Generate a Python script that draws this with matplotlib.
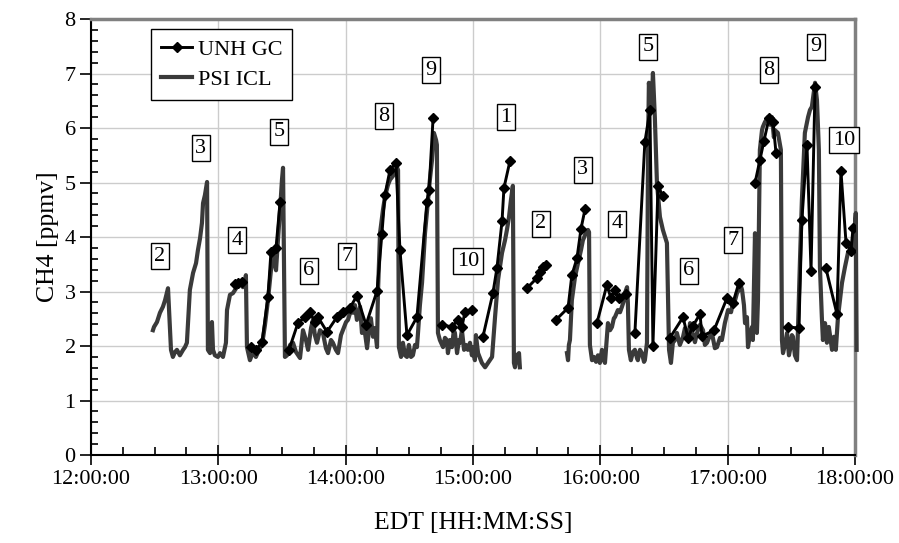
import numpy as np
import matplotlib
matplotlib.use("Agg")
import matplotlib.pyplot as plt
from matplotlib.ticker import MultipleLocator, FuncFormatter

plt.rcParams["font.family"] = ["Liberation Serif", "DejaVu Serif"]

# Time axis: minutes after 12:00:00 EDT; CH4 in ppmv. None marks a gap in the record.
psi_minutes = [
    29.2, 29.7, 31.1, 32.5, 33.9, 34.9, 36.3, 37.7, 38.6, 39.6, 40.5, 41.9, 43.4, 44.3, 45.2,
    46.6, 48.1, 49.5, 50.4, 51.4, 52.3, 52.8, 53.7, 54.7, 55.1, 56.1, 57.0, 57.5, 58.4, 59.8,
    60.8, 62.2, 63.6, 64.1, 65.5, 66.9, 67.9, 68.8, 70.2, 71.6, 72.6, 73.0, 73.5, 74.9, 76.3,
    77.7, 79.2, 80.6, 82.0, 83.4, 84.8, 86.2, 87.2, 88.1, 89.1, 90.0, 90.5, 91.4, 92.4, 93.8,
    95.2, 96.6, 98.5, 99.9, 101.3, 102.3, 103.7, 104.6, 105.5, 106.5, 107.9, 109.3, 110.7,
    111.7, 113.1, 114.0, 115.4, 116.4, 117.8, 118.7, 120.2, 121.1, 122.5, 123.5, 124.4, 125.3,
    126.8, 127.7, 128.6, 130.1, 131.0, 131.9, 132.9, 133.8, 134.8, 135.2, 136.2, 137.6, 138.5,
    139.9, 140.9, 142.3, 143.2, 144.2, 144.7, 145.1, 146.1, 147.0, 148.0, 148.9, 149.8, 150.8,
    151.7, 152.7, 153.6, 154.1, 155.0, 156.0, 157.4, 158.8, 159.7, 160.7, 161.6, 162.6, 163.0,
    163.5, 164.4, 165.4, 165.9, 166.8, 167.7, 168.2, 169.2, 170.1, 171.0, 171.5, 172.5, 173.4,
    173.9, 174.8, 175.8, 176.7, 177.6, 178.6, 179.5, 180.0, 180.9, 181.4, 182.4, 183.3, 184.2,
    185.7, 187.1, 188.0, 189.0, 190.4, 191.8, 193.7, 195.1, 196.0, 197.0, 197.9, 198.8, 199.3,
    199.8, 200.7, 201.7, 202.1,
    None,
    224.3, 224.8, 225.2, 225.7, 226.6, 228.1, 229.5, 230.9, 231.8, 233.2, 234.2, 234.7, 235.1,
    236.1, 237.0, 238.0, 238.9, 239.8, 240.8, 241.7, 242.2, 243.1, 243.6, 244.6, 245.5, 246.4,
    246.9, 247.9, 248.3, 249.3, 250.2, 251.2, 251.6, 252.6, 253.0, 253.5, 254.4, 255.4, 256.3,
    257.3, 257.7, 258.7, 259.6, 260.6, 261.0, 262.0, 262.5, 262.9, 263.9, 264.3, 264.8, 265.7,
    266.7, 268.1, 269.5, 270.5, 271.4, 272.4, 273.3, 274.2, 275.2, 276.1, 277.5, 279.0, 279.9,
    281.3, 282.3, 283.7, 284.6, 285.6, 287.0, 288.4, 289.3, 290.3, 291.7, 292.6, 294.0, 295.0,
    296.4, 297.3, 298.7, 300.2, 301.6, 302.5, 303.5, 304.4, 305.3, 305.8, 306.8, 307.7, 308.2,
    309.1, 309.6, 310.5, 311.5, 311.9, 312.9, 313.8, 314.3, 315.2, 316.2, 316.6, 317.6, 319.0,
    319.9, 320.9, 321.8, 322.3, 323.7, 325.1, 325.6, 326.1, 327.0, 328.0, 328.9, 329.4, 330.3,
    330.8, 331.7, 332.7, 333.1, 334.1, 335.0, 336.4, 337.9, 338.8, 339.7, 341.2, 342.1, 343.0,
    343.5, 344.4, 344.9, 345.9, 346.8, 347.7, 349.2, 350.1, 351.0, 352.0, 353.9, 355.3, 356.7,
    358.6, 359.5, 360.4, 360.8,
]
psi_ppmv = [
    2.29, 2.35, 2.44, 2.61, 2.72, 2.84, 3.06, 1.93, 1.80, 1.89, 1.93, 1.83, 1.93, 1.98, 2.06,
    3.03, 3.34, 3.52, 3.76, 3.98, 4.26, 4.62, 4.77, 5.01, 1.93, 1.87, 2.44, 1.93, 1.83, 1.80,
    1.87, 1.80, 2.06, 2.66, 2.94, 2.97, 3.03, 3.08, 3.16, 3.08, 3.16, 3.30, 1.98, 1.74, 1.89,
    1.80, 1.93, 2.02, 2.39, 2.84, 3.39, 3.67, 3.39, 3.94, 4.50, 5.05, 5.27, 1.80, 1.83, 2.02,
    2.06, 1.89, 1.78, 2.29, 2.11, 1.93, 2.33, 2.48, 2.20, 2.06, 2.29, 2.24, 1.96,
    1.87, 2.11, 2.06, 1.93, 1.87, 2.20, 2.29, 2.44, 2.48, 2.66, 2.61, 2.75, 2.48,
    2.72, 2.24, 2.39, 1.96, 2.29, 2.51, 2.17, 2.33, 1.98, 2.94, 4.07, 4.50, 4.73,
    4.95, 5.05, 5.12, 5.17, 5.28, 5.23, 1.98, 1.80, 2.06, 1.83, 1.80, 2.02, 1.80,
    1.83, 2.02, 1.98, 2.24, 2.75, 3.16, 4.07, 4.68, 5.05, 5.41, 5.91, 5.78, 5.69,
    2.24, 2.11, 2.02, 1.98, 2.15, 2.11, 1.87, 2.11, 1.98, 2.29, 2.24, 1.87, 2.11,
    2.06, 2.29, 1.93, 2.02, 1.93, 2.06, 1.83, 1.98, 1.74, 2.20, 1.87, 1.78, 1.69,
    1.61, 1.69, 1.74, 1.80, 2.53, 3.21, 3.71, 3.94, 4.13, 4.37, 4.68, 4.94, 1.69,
    1.61, 1.83, 1.87, 1.61,
    None,
    1.87, 1.74, 2.02, 2.11, 2.84, 3.27, 3.52, 3.76, 3.94, 4.07, 4.13, 4.09, 2.02,
    1.74, 1.80, 1.71, 1.83, 1.69, 1.93, 1.74, 1.69, 2.17, 2.42, 2.29, 2.35, 2.51,
    2.53, 2.62, 2.66, 2.62, 2.72, 2.84, 2.97, 3.08, 2.79, 1.93, 1.74, 1.89, 1.93,
    1.78, 1.74, 1.93, 1.87, 1.71, 1.74, 2.06, 5.60, 6.83, 6.33, 6.51, 7.01, 6.20,
    4.99, 4.37, 4.13, 4.00, 3.89, 1.93, 1.69, 2.06, 2.11, 2.24, 2.02, 2.17, 2.33,
    2.11, 2.42, 2.20, 2.07, 2.24, 2.39, 2.29, 2.02, 2.06, 2.20, 2.24, 1.96, 1.98,
    2.15, 2.11, 2.42, 2.66, 2.62, 2.79, 2.84, 2.97, 3.03, 3.16, 3.03, 2.75, 2.42,
    2.53, 1.98, 2.20, 2.35, 2.11, 4.07, 2.24, 2.84, 5.60, 5.96, 6.02, 6.11, 6.20,
    6.06, 6.20, 5.83, 5.96, 5.91, 5.60, 2.11, 1.87, 2.02, 2.24, 1.83, 1.93, 2.20,
    2.17, 1.83, 1.74, 2.24, 3.58, 4.68, 5.91, 6.20, 6.33, 6.39, 6.83, 6.51, 5.60,
    3.45, 2.53, 2.11, 2.42, 2.06, 2.35, 1.93, 2.17, 1.93, 2.53, 3.16, 3.45, 3.71,
    3.82, 4.00, 4.44, 1.93,
]

unh_minutes = [
    67.9, 69.3, 71.2, None,
    75.4, 77.7, 80.6, 83.4, 84.8, 87.2, 89.1, None,
    93.3, 97.5, 100.8, 103.2, 105.5, 107.0, 111.2, 115.9, 118.7, 122.0, 125.3, 129.6, 134.8,
    137.1, 138.5, 140.9, 143.7, 145.6, 148.9, 153.6, 158.3, 159.3, 161.2, None,
    165.4, 170.1, 172.9, 174.8, 176.2, 179.5, None,
    184.7, 189.4, 191.3, 193.7, 194.6, 197.4, None,
    205.4, 210.2, 211.6, 213.0, 214.4, None,
    219.1, 224.8, 226.6, 229.0, 230.9, 232.8, None,
    238.4, 243.1, 245.0, 246.9, 248.8, 252.1, None,
    256.3, 261.0, 263.4, 264.8, 267.2, 269.5, None,
    272.8, 279.0, 281.3, 283.7, 287.0, 287.9, 293.6, 299.7, 302.5, 305.3, None,
    312.9, 315.2, 317.1, 319.5, 321.4, 322.8, None,
    328.4, 333.6, 335.0, 337.4, 339.3, 341.2, None,
    346.3, 351.5, 353.4, 355.8, 358.1, 359.1,
]
unh_ppmv = [
    3.14, 3.16, 3.17, None,
    1.98, 1.93, 2.07, 2.90, 3.72, 3.80, 4.64, None,
    1.93, 2.42, 2.53, 2.62, 2.44, 2.53, 2.26, 2.53, 2.62, 2.70, 2.92, 2.39, 3.01,
    4.06, 4.77, 5.23, 5.36, 3.76, 2.20, 2.53, 4.64, 4.86, 6.18, None,
    2.39, 2.35, 2.48, 2.35, 2.62, 2.66, None,
    2.17, 2.97, 3.43, 4.29, 4.90, 5.39, None,
    3.06, 3.25, 3.36, 3.45, 3.49, None,
    2.48, 2.70, 3.30, 3.61, 4.15, 4.51, None,
    2.42, 3.12, 2.88, 3.03, 2.88, 2.95, None,
    2.24, 5.74, 6.33, 2.00, 4.94, 4.75, None,
    2.15, 2.53, 2.15, 2.37, 2.59, 2.18, 2.29, 2.88, 2.79, 3.16, None,
    4.99, 5.41, 5.76, 6.18, 6.11, 5.54, None,
    2.35, 2.33, 4.31, 5.69, 3.38, 6.75, None,
    3.43, 2.59, 5.21, 3.89, 3.74, 4.17,
]

# Sampling-sequence labels
seq_labels = ["2", "3", "4", "5", "6", "7", "8", "9", "10", "1",
              "2", "3", "4", "5", "6", "7", "8", "9", "10"]
seq_minutes = [32.5, 51.8, 68.8, 88.6, 102.7, 120.6, 138.1, 160.2, 177.6, 195.5,
               212.0, 231.8, 247.9, 262.5, 281.8, 302.5, 319.5, 341.6, 354.8]
seq_ppmv = [3.65, 5.63, 3.94, 5.93, 3.38, 3.65, 6.22, 7.06, 3.56, 6.20,
            4.24, 5.23, 4.24, 7.49, 3.38, 3.94, 7.06, 7.49, 5.78]


def as_array(values):
    return np.array([np.nan if v is None else v for v in values], dtype=float)


fig = plt.figure(figsize=(8.99, 5.43), dpi=100)
ax = fig.add_axes([0.1012, 0.162, 0.8498, 0.803])

ax.plot(as_array(psi_minutes), as_array(psi_ppmv), color="#3a3a3a", lw=3.0,
        solid_joinstyle="round", label="PSI ICL", zorder=3, clip_on=False)
ax.plot(as_array(unh_minutes), as_array(unh_ppmv), color="black", lw=2.1,
        marker="D", markersize=5.6, label="UNH GC", zorder=4)

for txt, tm, val in zip(seq_labels, seq_minutes, seq_ppmv):
    ax.text(tm, val, txt, fontsize=16, ha="center", va="center", zorder=5,
            bbox=dict(boxstyle="square,pad=0.16", fc="white", ec="black", lw=1.0))

ax.set_xlim(0, 360)
ax.set_ylim(0, 8)
ax.xaxis.set_major_locator(MultipleLocator(60))
ax.xaxis.set_minor_locator(MultipleLocator(15))
ax.yaxis.set_major_locator(MultipleLocator(1))
ax.yaxis.set_minor_locator(MultipleLocator(0.2))
ax.xaxis.set_major_formatter(
    FuncFormatter(lambda m, _: f"{12 + int(round(m)) // 60:02d}:{int(round(m)) % 60:02d}:00"))

ax.tick_params(axis="x", which="major", direction="inout", length=14, width=1.2,
               labelsize=16, pad=4)
ax.tick_params(axis="x", which="minor", direction="in", length=6, width=1.2)
ax.tick_params(axis="y", which="major", direction="out", length=8, width=1.2,
               labelsize=16, pad=3)
ax.tick_params(axis="y", which="minor", direction="in", length=5, width=1.2)

ax.grid(True, which="major", color="#cccccc", lw=1.0)
ax.set_axisbelow(True)

for side in ("left", "bottom"):
    ax.spines[side].set_color("black")
    ax.spines[side].set_linewidth(1.5)
for side in ("top", "right"):
    ax.spines[side].set_color("#808080")
    ax.spines[side].set_linewidth(2.5)

ax.set_ylabel("CH4 [ppmv]", fontsize=18.5, labelpad=4)
ax.set_xlabel("EDT [HH:MM:SS]", fontsize=18.5, labelpad=16)

handles, labels = ax.get_legend_handles_labels()
leg = ax.legend(handles[::-1], labels[::-1], loc="upper left",
                bbox_to_anchor=(0.0785, 0.977), borderaxespad=0, fontsize=16,
                frameon=True, fancybox=False, edgecolor="black", framealpha=1,
                handlelength=1.4, handletextpad=0.25, labelspacing=0.45,
                borderpad=0.45)
leg.get_frame().set_linewidth(1.0)

fig.savefig("out.png", dpi=100)
